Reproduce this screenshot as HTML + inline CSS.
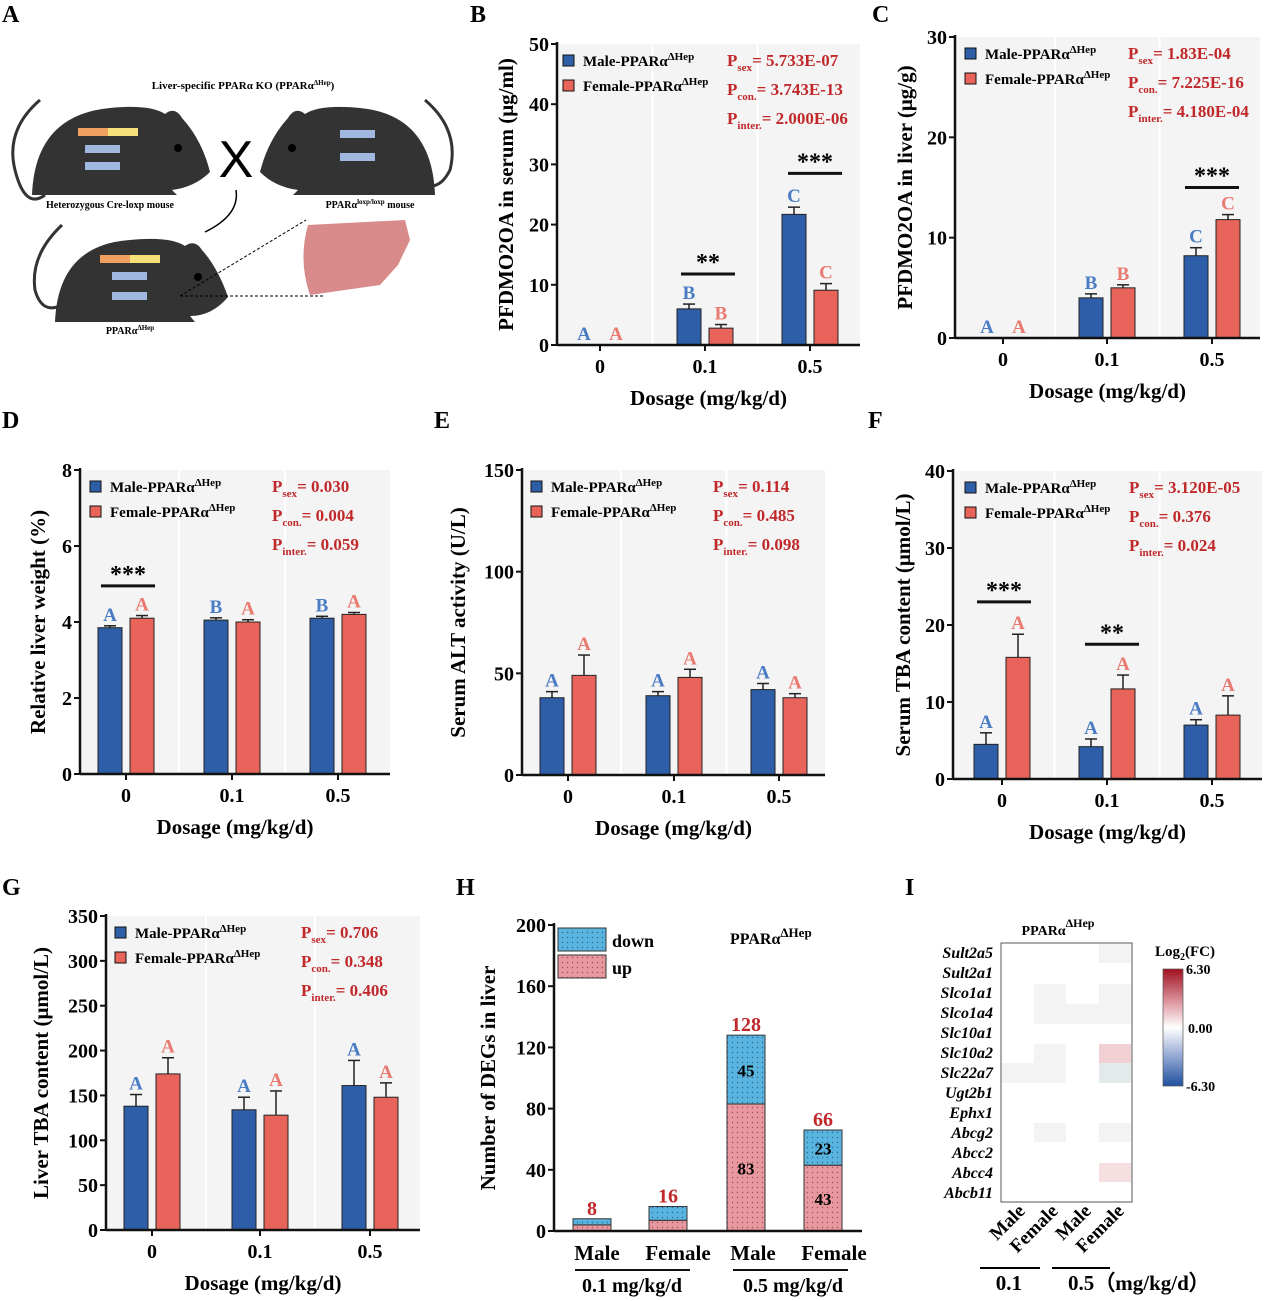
<!DOCTYPE html><html><head><meta charset="utf-8"><style>
body{margin:0;background:#fff}
svg{display:block;font-family:"Liberation Serif",serif;font-weight:bold}
</style></head><body>
<svg id="s" width="1266" height="1301" viewBox="0 0 1266 1301" xmlns="http://www.w3.org/2000/svg">
<defs>
<pattern id="pd" width="5" height="5" patternUnits="userSpaceOnUse"><rect width="5" height="5" fill="#5ab4e0"/><circle cx="2.5" cy="2.5" r="0.7" fill="#2a6c90"/></pattern>
<pattern id="pu" width="5" height="5" patternUnits="userSpaceOnUse"><rect width="5" height="5" fill="#e8999f"/><circle cx="2.5" cy="2.5" r="0.7" fill="#a05058"/></pattern>
</defs>
<g font-size="24"><text x="2" y="22">A</text><text x="470" y="22">B</text><text x="872" y="22">C</text><text x="2" y="428">D</text><text x="434" y="428">E</text><text x="868" y="428">F</text><text x="2" y="895">G</text><text x="456" y="895">H</text><text x="905" y="895">I</text></g>
<g>
<text x="243" y="89" font-size="11" text-anchor="middle">Liver-specific PPARα KO (PPARα<tspan font-size="7" dy="-4">ΔHep</tspan><tspan dy="4">)</tspan></text>
<path d="M40,100 Q5,130 15,170 Q25,210 45,195" fill="none" stroke="#333" stroke-width="3"/>
<path d="M32,195 Q35,115 110,108 Q150,104 165,114 Q175,106 182,118 Q202,140 210,172 Q195,187 172,190 L177,195 L32,195 Z" fill="#333"/>
<circle cx="178" cy="148" r="4" fill="#000"/>
<path d="M425,100 Q460,130 450,170 Q440,190 425,185" fill="none" stroke="#333" stroke-width="3"/>
<path d="M435,195 Q432,115 360,108 Q320,104 305,114 Q295,106 288,118 Q268,140 260,172 Q275,187 298,190 L293,195 L435,195 Z" fill="#333"/>
<circle cx="292" cy="148" r="4" fill="#000"/>
<text x="236" y="177" font-size="52" font-family="Liberation Sans" font-weight="normal" text-anchor="middle">X</text>
<path d="M62,225 Q30,255 35,290 Q42,315 62,305" fill="none" stroke="#333" stroke-width="3"/>
<path d="M55,322 Q58,245 130,240 Q170,236 185,246 Q195,239 202,250 Q218,268 228,297 Q212,316 190,316 L195,322 Z" fill="#333"/>
<circle cx="198" cy="277" r="4" fill="#000"/>
<path d="M308,225 L405,220 L410,240 L398,265 L380,285 L310,295 Q298,260 308,225Z" fill="#d98a8a"/>
<path d="M236,190 Q240,215 205,232" fill="none" stroke="#000" stroke-width="1.5"/>
<line x1="180" y1="296" x2="325" y2="296" stroke="#000" stroke-dasharray="3,2"/>
<line x1="180" y1="296" x2="306" y2="220" stroke="#000" stroke-dasharray="3,2"/>
<g font-size="6"><rect x="78" y="128" width="30" height="8" fill="#f0a060"/><rect x="108" y="128" width="30" height="8" fill="#f5e07a"/>
<rect x="85" y="145" width="35" height="8" fill="#a0b8e0"/><rect x="85" y="162" width="35" height="8" fill="#a0b8e0"/>
<rect x="340" y="130" width="35" height="8" fill="#a0b8e0"/><rect x="340" y="153" width="35" height="8" fill="#a0b8e0"/>
<rect x="100" y="255" width="30" height="8" fill="#f0a060"/><rect x="130" y="255" width="30" height="8" fill="#f5e07a"/>
<rect x="112" y="272" width="35" height="8" fill="#a0b8e0"/><rect x="112" y="292" width="35" height="8" fill="#a0b8e0"/></g>
<text x="110" y="208" font-size="10" text-anchor="middle">Heterozygous Cre-loxp mouse</text>
<text x="370" y="208" font-size="10" text-anchor="middle">PPARα<tspan font-size="7" dy="-4">loxp/loxp</tspan><tspan dy="4"> mouse</tspan></text>
<text x="130" y="334" font-size="10" text-anchor="middle">PPARα<tspan font-size="7" dy="-4">ΔHep</tspan></text>
</g>
<g id="plots"></g>
<g id="h"></g>
<g font-style="italic" font-size="16" text-anchor="end">
<text x="1058" y="935" font-size="14" font-style="normal" text-anchor="middle">PPARα<tspan font-size="12" dy="-8">ΔHep</tspan></text>
<rect x="1001" y="943" width="131" height="259" fill="#fff" stroke="#555" stroke-width="1"/>
<rect x="1099" y="944" width="32" height="19" fill="#f3f3f3"/>
<rect x="1034" y="984" width="32" height="40" fill="#f3f3f3"/><rect x="1066" y="1004" width="65" height="20" fill="#f3f3f3"/><rect x="1099" y="984" width="32" height="20" fill="#f3f3f3"/>
<rect x="1034" y="1044" width="32" height="39" fill="#f3f3f3"/><rect x="1002" y="1063" width="32" height="20" fill="#f3f3f3"/>
<rect x="1099" y="1044" width="32" height="19" fill="#f0d0d3"/><rect x="1099" y="1063" width="32" height="20" fill="#e3eaec"/>
<rect x="1034" y="1123" width="32" height="19" fill="#f3f3f3"/><rect x="1099" y="1123" width="32" height="19" fill="#f3f3f3"/>
<rect x="1099" y="1163" width="32" height="19" fill="#f5dfe1"/>
<g><text x="993" y="958">Sult2a5</text><text x="993" y="978">Sult2a1</text><text x="993" y="998">Slco1a1</text><text x="993" y="1018">Slco1a4</text><text x="993" y="1038">Slc10a1</text><text x="993" y="1058">Slc10a2</text><text x="993" y="1078">Slc22a7</text><text x="993" y="1098">Ugt2b1</text><text x="993" y="1118">Ephx1</text><text x="993" y="1138">Abcg2</text><text x="993" y="1158">Abcc2</text><text x="993" y="1178">Abcc4</text><text x="993" y="1198">Abcb11</text></g>
<g font-style="normal" font-size="19" text-anchor="end">
<text transform="translate(1026,1212) rotate(-45)">Male</text><text transform="translate(1059,1212) rotate(-45)">Female</text>
<text transform="translate(1092,1212) rotate(-45)">Male</text><text transform="translate(1125,1212) rotate(-45)">Female</text></g>
<line x1="980" y1="1268" x2="1040" y2="1268" stroke="#000" stroke-width="2"/><line x1="1052" y1="1268" x2="1110" y2="1268" stroke="#000" stroke-width="2"/>
<text x="1022" y="1290" font-style="normal" font-size="21">0.1</text>
<text x="1068" y="1290" font-style="normal" font-size="21" text-anchor="start">0.5（mg/kg/d）</text>
<defs><linearGradient id="cb" x1="0" y1="0" x2="0" y2="1"><stop offset="0" stop-color="#a01020"/><stop offset="0.3" stop-color="#e0a0a8"/><stop offset="0.5" stop-color="#fff"/><stop offset="0.7" stop-color="#a8b8dc"/><stop offset="1" stop-color="#2050a0"/></linearGradient></defs>
<rect x="1163" y="969" width="20" height="117" fill="url(#cb)" stroke="#555" stroke-width="0.7"/>
<g font-style="normal" font-size="14" text-anchor="start"><text x="1155" y="956" font-size="15">Log<tspan font-size="10" dy="4">2</tspan><tspan dy="-4">(FC)</tspan></text>
<text x="1186" y="974">6.30</text><text x="1188" y="1033">0.00</text><text x="1186" y="1091">-6.30</text></g>
</g>
</svg>
<script>
const g=document.getElementById('plots');
let h='';
const BL='#2e5ea8',RD='#e8645a',BLT='#4a7cc4',RDT='#e87a70',PR='#c0282a';
function panel(o){
 const {ax,yt,yb,xr,ymax,step,cx,vals,errs,lets,ylab,pv,stars,lx,px,yo}=o;
 const sc=v=>yb-(v/ymax)*(yb-yt);
 h+=`<rect x="${ax}" y="${yt}" width="${xr-ax}" height="${yb-yt}" fill="#f4f4f4"/>`;
 for(let i=0;i<2;i++){const m=(cx[i]+cx[i+1])/2;h+=`<line x1="${m}" y1="${yt}" x2="${m}" y2="${yb}" stroke="#fff" stroke-width="2"/>`;}
 for(let i=0;i<3;i++){[0,1].forEach(k=>{const v=vals[i][k],e=errs[i][k];const x=cx[i]+(k?4:-28);const c=k?RD:BL;
  if(v>0){h+=`<rect x="${x}" y="${sc(v)}" width="24" height="${yb-sc(v)}" fill="${c}" stroke="#222" stroke-width="1"/>`;
  h+=`<line x1="${x+12}" y1="${sc(v)}" x2="${x+12}" y2="${sc(v+e)}" stroke="#222" stroke-width="1.5"/><line x1="${x+6}" y1="${sc(v+e)}" x2="${x+18}" y2="${sc(v+e)}" stroke="#222" stroke-width="1.5"/>`;}
  h+=`<text x="${x+12}" y="${sc(v+e)-5}" font-size="19" fill="${k?RDT:BLT}" text-anchor="middle">${lets[i][k]}</text>`;});}
 h+=`<line x1="${ax}" y1="${yt-2}" x2="${ax}" y2="${yb}" stroke="#111" stroke-width="2.5"/><line x1="${ax}" y1="${yb}" x2="${xr}" y2="${yb}" stroke="#111" stroke-width="2.5"/>`;
 for(let v=0;v<=ymax+1e-9;v+=step){const y=sc(v);h+=`<line x1="${ax-6}" y1="${y}" x2="${ax}" y2="${y}" stroke="#111" stroke-width="2"/><text x="${ax-8}" y="${y+7}" font-size="20" text-anchor="end">${v}</text>`;}
 ['0','0.1','0.5'].forEach((t,i)=>{h+=`<line x1="${cx[i]}" y1="${yb}" x2="${cx[i]}" y2="${yb+6}" stroke="#111" stroke-width="2"/><text x="${cx[i]}" y="${yb+28}" font-size="20" text-anchor="middle">${t}</text>`;});
 h+=`<text x="${(ax+xr)/2}" y="${yb+60}" font-size="21" text-anchor="middle">Dosage (mg/kg/d)</text>`;
 h+=`<text transform="translate(${ax-yo},${(yt+yb)/2}) rotate(-90)" font-size="21" text-anchor="middle">${ylab}</text>`;
 const ly=yt+22;
 h+=`<rect x="${lx}" y="${ly-11}" width="11" height="11" fill="${BL}" stroke="#111"/><text x="${lx+20}" y="${ly}" font-size="15">Male-PPARα<tspan font-size="11" dy="-6">ΔHep</tspan></text>`;
 h+=`<rect x="${lx}" y="${ly+14}" width="11" height="11" fill="${RD}" stroke="#111"/><text x="${lx+20}" y="${ly+25}" font-size="15">Female-PPARα<tspan font-size="11" dy="-6">ΔHep</tspan></text>`;
 ['sex','con.','inter.'].forEach((s,i)=>{h+=`<text x="${px}" y="${ly+i*29}" font-size="17" fill="${PR}">P<tspan font-size="11" dy="5">${s}</tspan><tspan dy="-5">= ${pv[i]}</tspan></text>`;});
 (stars||[]).forEach(s=>{const y=sc(s.v);h+=`<line x1="${s.c-27}" y1="${y}" x2="${s.c+27}" y2="${y}" stroke="#111" stroke-width="3"/><text x="${s.c}" y="${y-4}" font-size="24" text-anchor="middle">${s.t}</text>`;});
}
const L3=[['A','A'],['B','B'],['C','C']];
panel({yo:44,ax:557,yt:44,yb:345,xr:860,ymax:50,step:10,cx:[600,705,810],vals:[[0,0],[6,2.8],[21.7,9.1]],errs:[[0,0],[0.8,0.6],[1.2,1.1]],lets:L3,ylab:'PFDMO2OA in serum (μg/ml)',pv:['5.733E-07','3.743E-13','2.000E-06'],stars:[{c:708,v:11.8,t:'**'},{c:815,v:28.5,t:'***'}],lx:563,px:727});
panel({yo:43,ax:955,yt:37,yb:338,xr:1260,ymax:30,step:10,cx:[1003,1107,1212],vals:[[0,0],[4,5],[8.2,11.8]],errs:[[0,0],[0.4,0.3],[0.8,0.5]],lets:L3,ylab:'PFDMO2OA in liver (μg/g)',pv:['1.83E-04','7.225E-16','4.180E-04'],stars:[{c:1212,v:15,t:'***'}],lx:965,px:1128});
panel({yo:35,ax:80,yt:470,yb:774,xr:390,ymax:8,step:2,cx:[126,232,338],vals:[[3.85,4.1],[4.05,4.0],[4.1,4.2]],errs:[[0.05,0.07],[0.06,0.06],[0.05,0.05]],lets:[['A','A'],['B','A'],['B','A']],ylab:'Relative liver weight (%)',pv:['0.030','0.004','0.059'],stars:[{c:128,v:4.95,t:'***'}],lx:90,px:272});
panel({yo:57,ax:522,yt:470,yb:775,xr:825,ymax:150,step:50,cx:[568,674,779],vals:[[38,49],[39,48],[42,38]],errs:[[3,10],[2,4],[3,2]],lets:[['A','A'],['A','A'],['A','A']],ylab:'Serum ALT activity (U/L)',pv:['0.114','0.485','0.098'],lx:531,px:713});
panel({yo:43,ax:953,yt:471,yb:779,xr:1262,ymax:40,step:10,cx:[1002,1107,1212],vals:[[4.5,15.8],[4.2,11.7],[7,8.3]],errs:[[1.5,3],[1,1.8],[0.7,2.5]],lets:[['A','A'],['A','A'],['A','A']],ylab:'Serum TBA content (μmol/L)',pv:['3.120E-05','0.376','0.024'],stars:[{c:1004,v:23,t:'***'},{c:1112,v:17.5,t:'**'}],lx:965,px:1129});
panel({yo:58,ax:106,yt:916,yb:1230,xr:420,ymax:350,step:50,cx:[152,260,370],vals:[[138,174],[134,128],[161,148]],errs:[[13,18],[14,27],[28,16]],lets:[['A','A'],['A','A'],['A','A']],ylab:'Liver TBA content (μmol/L)',pv:['0.706','0.348','0.406'],lx:115,px:301});
(function(){const ax=554,yt=925,yb=1231,xr=862;const sc=v=>yb-v/200*(yb-yt);let s='';
 [[592,4,4,8],[668,7,9,16],[746,83,45,128],[823,43,23,66]].forEach(([c,u,d,t],i)=>{
  s+=`<rect x="${c-19}" y="${sc(u)}" width="38" height="${yb-sc(u)}" fill="url(#pu)" stroke="#333"/>`;
  s+=`<rect x="${c-19}" y="${sc(u+d)}" width="38" height="${sc(u)-sc(u+d)}" fill="url(#pd)" stroke="#333"/>`;
  s+=`<text x="${c}" y="${sc(t)-4}" font-size="20" fill="${PR}" text-anchor="middle">${t}</text>`;
  if(i>1){s+=`<text x="${c}" y="${(sc(u)+sc(u+d))/2+7}" font-size="17" text-anchor="middle">${d}</text><text x="${c}" y="${(sc(u)+yb)/2+7}" font-size="17" text-anchor="middle">${u}</text>`;}
 });
 s+=`<line x1="${ax}" y1="${yt-2}" x2="${ax}" y2="${yb}" stroke="#111" stroke-width="2.5"/><line x1="${ax}" y1="${yb}" x2="${xr}" y2="${yb}" stroke="#111" stroke-width="2.5"/>`;
 for(let v=0;v<=200;v+=40){const y=sc(v);s+=`<line x1="${ax-6}" y1="${y}" x2="${ax}" y2="${y}" stroke="#111" stroke-width="2"/><text x="${ax-8}" y="${y+7}" font-size="20" text-anchor="end">${v}</text>`;}
 s+=`<rect x="558" y="928" width="48" height="23" fill="url(#pd)" stroke="#333"/><rect x="558" y="955" width="48" height="23" fill="url(#pu)" stroke="#333"/><text x="612" y="947" font-size="18">down</text><text x="612" y="974" font-size="18">up</text>`;
 s+=`<text x="730" y="944" font-size="16">PPARα<tspan font-size="13" dy="-7">ΔHep</tspan></text>`;
 s+=`<text x="597" y="1260" font-size="21" text-anchor="middle">Male</text><text x="678" y="1260" font-size="21" text-anchor="middle">Female</text><text x="753" y="1260" font-size="21" text-anchor="middle">Male</text><text x="834" y="1260" font-size="21" text-anchor="middle">Female</text>`;
 s+=`<line x1="575" y1="1270" x2="690" y2="1270" stroke="#111" stroke-width="2"/><line x1="733" y1="1270" x2="848" y2="1270" stroke="#111" stroke-width="2"/>`;
 s+=`<text x="632" y="1292" font-size="20" text-anchor="middle">0.1 mg/kg/d</text><text x="793" y="1292" font-size="20" text-anchor="middle">0.5 mg/kg/d</text>`;
 s+=`<text transform="translate(495,${(yt+yb)/2}) rotate(-90)" font-size="21" text-anchor="middle">Number of DEGs in liver</text>`;
 document.getElementById('h').innerHTML=s;})();
g.innerHTML=h;
</script>
</body></html>
